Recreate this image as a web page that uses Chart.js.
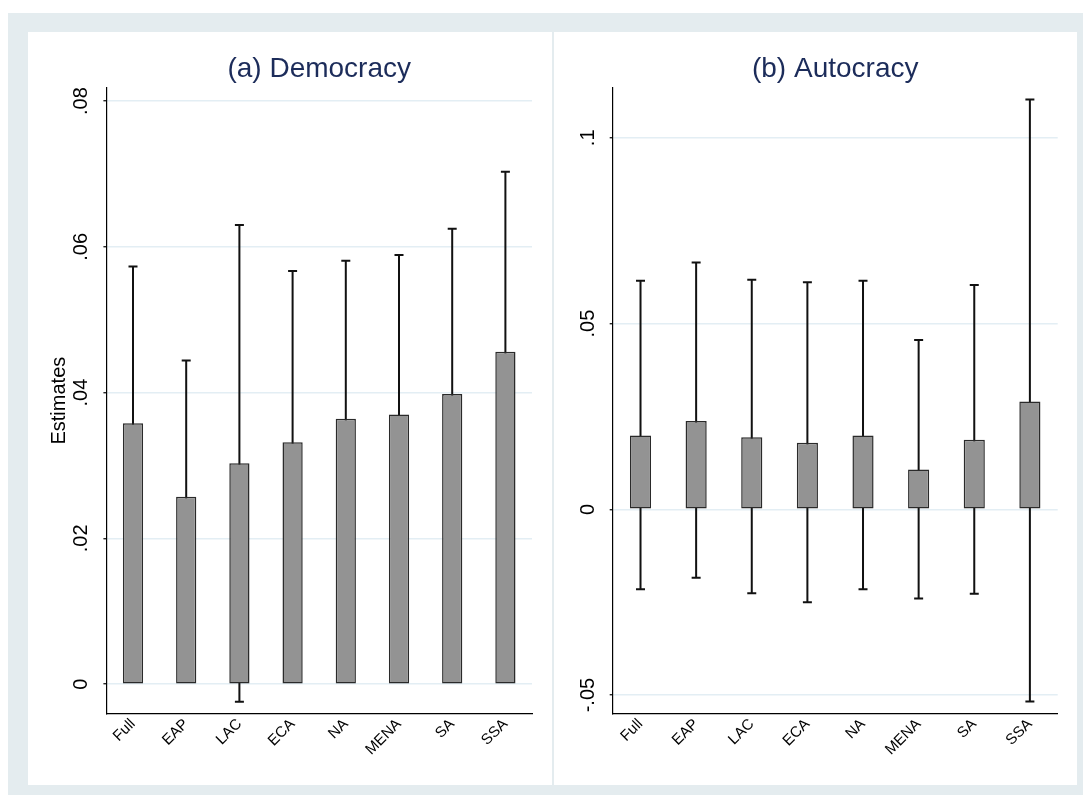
<!DOCTYPE html>
<html>
<head>
<meta charset="utf-8">
<title>Estimates by region: democracy and autocracy</title>
<script src="https://cdn.jsdelivr.net/npm/chart.js@4.4.1/dist/chart.umd.min.js"></script>
<style>
  html, body { margin: 0; padding: 0; background: #ffffff; }
  body { width: 1083px; height: 795px; position: relative; overflow: hidden; }
  #frame { position: absolute; left: 8px; top: 13px; width: 1075px; height: 782px; background: #e4ecef; }
  .panel { position: absolute; top: 32px; height: 753px; background: #ffffff; }
  #panelA { left: 28px; width: 524px; }
  #panelB { left: 554px; width: 523px; }
  canvas { display: block; }
</style>
</head>
<body>
<div id="frame"></div>
<div class="panel" id="panelA"><canvas id="chartA" width="524" height="753"></canvas></div>
<div class="panel" id="panelB"><canvas id="chartB" width="523" height="753"></canvas></div>
<script>
// Regions on the x axis
const regions = ['Full', 'EAP', 'LAC', 'ECA', 'NA', 'MENA', 'SA', 'SSA'];

// (a) Democracy: point estimates and confidence bounds
const demEstimate = [0.0358, 0.0257, 0.0303, 0.0332, 0.0364, 0.0370, 0.0398, 0.0456];
const demUpper    = [0.0573, 0.0444, 0.0630, 0.0567, 0.0581, 0.0589, 0.0625, 0.0703];
const demLower    = [0.0143, 0.0070, -0.0024, 0.0097, 0.0147, 0.0151, 0.0171, 0.0209];

// (b) Autocracy: point estimates and confidence bounds
const autEstimate = [0.0199, 0.0238, 0.0194, 0.0179, 0.0199, 0.0107, 0.0187, 0.0290];
const autUpper    = [0.0615, 0.0664, 0.0618, 0.0611, 0.0615, 0.0456, 0.0604, 0.1103];
const autLower    = [-0.0215, -0.0184, -0.0226, -0.0250, -0.0215, -0.0240, -0.0227, -0.0517];

// y-axis ticks and their labels
const demTicks = [0, 0.02, 0.04, 0.06, 0.08];
const demTickLabels = ['0', '.02', '.04', '.06', '.08'];
const autTicks = [-0.05, 0, 0.05, 0.1];
const autTickLabels = ['-.05', '0', '.05', '.1'];

const FONT = "'Liberation Sans', Arial, Helvetica, sans-serif";

// Capped range lines drawn under the bars, so the bar covers the part inside it
const rangeCaps = {
  id: 'rangeCaps',
  beforeDatasetsDraw(chart) {
    const ctx = chart.ctx;
    const yScale = chart.scales.y;
    chart.data.datasets.forEach((ds, di) => {
      const meta = chart.getDatasetMeta(di);
      const lo = ds.lowerBounds, hi = ds.upperBounds;
      ctx.save();
      ctx.strokeStyle = '#111111';
      ctx.lineWidth = 2;
      ctx.lineCap = 'butt';
      meta.data.forEach((bar, i) => {
        const x = bar.x;
        const yHi = yScale.getPixelForValue(hi[i]);
        const yLo = yScale.getPixelForValue(lo[i]);
        const half = 4.5;
        ctx.beginPath();
        ctx.moveTo(x, yHi); ctx.lineTo(x, yLo);
        ctx.moveTo(x - half, yHi); ctx.lineTo(x + half, yHi);
        ctx.moveTo(x - half, yLo); ctx.lineTo(x + half, yLo);
        ctx.stroke();
      });
      ctx.restore();
    });
  }
};

function makeChart(canvasId, cfg) {
  return new Chart(document.getElementById(canvasId), {
    type: 'bar',
    data: {
      labels: regions,
      datasets: [{
        data: cfg.estimates,
        upperBounds: cfg.upper,
        lowerBounds: cfg.lower,
        backgroundColor: '#939393',
        borderColor: '#2a2a2a',
        borderWidth: 1.5,
        borderSkipped: false,
        barPercentage: 0.38,
        categoryPercentage: 1.0
      }]
    },
    options: {
      responsive: false,
      animation: false,
      devicePixelRatio: 1,
      layout: { padding: { left: 0, right: cfg.rightPad, top: 0, bottom: 0 } },
      plugins: {
        legend: { display: false },
        tooltip: { enabled: false },
        title: {
          display: true,
          text: cfg.title,
          fullSize: false,
          color: '#1c2c5a',
          font: { family: FONT, size: 28, weight: 'normal', lineHeight: 1.2 },
          padding: { top: 20.7, bottom: 1.7 }
        }
      },
      scales: {
        x: {
          type: 'category',
          offset: true,
          afterFit: s => { s.height = 71.7; },
          grid: { display: false, drawTicks: false },
          border: { display: true, color: '#000000', width: 1.2 },
          ticks: {
            autoSkip: false,
            minRotation: 45,
            maxRotation: 45,
            padding: 2,
            color: '#000000',
            font: { family: FONT, size: 15 }
          }
        },
        y: {
          min: cfg.yMin,
          max: cfg.yMax,
          afterBuildTicks: s => { s.ticks = cfg.ticks.map(v => ({ value: v })); },
          afterFit: s => { s.width = cfg.axisWidth; },
          border: { display: true, color: '#000000', width: 1.2 },
          grid: { color: '#e3eef4', lineWidth: 1.5, tickLength: 3, tickColor: '#000000', tickWidth: 1.2 },
          ticks: {
            autoSkip: false,
            minRotation: 90,
            maxRotation: 90,
            crossAlign: 'center',
            padding: cfg.tickPad,
            color: '#000000',
            font: { family: FONT, size: 20 },
            callback: (v, i) => cfg.tickLabels[i]
          },
          title: cfg.yTitle ? {
            display: true,
            text: cfg.yTitle,
            color: '#000000',
            font: { family: FONT, size: 20 },
            padding: { top: 19.5, bottom: 0 }
          } : { display: false }
        }
      }
    },
    plugins: [rangeCaps]
  });
}

makeChart('chartA', {
  title: '(a) Democracy',
  estimates: demEstimate, upper: demUpper, lower: demLower,
  ticks: demTicks, tickLabels: demTickLabels,
  yMin: -0.004, yMax: 0.0818,
  axisWidth: 78.4, rightPad: 20, tickPad: 8,
  yTitle: 'Estimates'
});

makeChart('chartB', {
  title: '(b) Autocracy',
  estimates: autEstimate, upper: autUpper, lower: autLower,
  ticks: autTicks, tickLabels: autTickLabels,
  yMin: -0.0549, yMax: 0.1134,
  axisWidth: 58.7, rightPad: 19.3, tickPad: 4,
  yTitle: null
});
</script>
</body>
</html>
